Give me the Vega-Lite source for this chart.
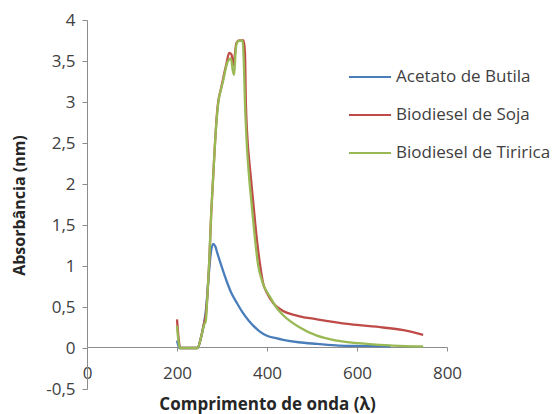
{
  "$schema": "https://vega.github.io/schema/vega-lite/v6.json",
  "width": 360,
  "height": 369,
  "autosize": {"type": "none"},
  "padding": {"left": 87, "top": 20, "right": 113, "bottom": 25},
  "background": "white",
  "config": {
    "view": {"stroke": null},
    "font": "Open Sans",
    "axis": {"labelFont": "Open Sans", "titleFont": "Open Sans", "grid": false}
  },
  "datasets": {
    "spectra": [
      {"s": "Acetato de Butila", "x": 200, "y": 0.09},
      {"s": "Acetato de Butila", "x": 205, "y": 0.0},
      {"s": "Acetato de Butila", "x": 246, "y": 0.0},
      {"s": "Acetato de Butila", "x": 253, "y": 0.12},
      {"s": "Acetato de Butila", "x": 260, "y": 0.3},
      {"s": "Acetato de Butila", "x": 265, "y": 0.5},
      {"s": "Acetato de Butila", "x": 270, "y": 0.85},
      {"s": "Acetato de Butila", "x": 275, "y": 1.15},
      {"s": "Acetato de Butila", "x": 280, "y": 1.27},
      {"s": "Acetato de Butila", "x": 285, "y": 1.24},
      {"s": "Acetato de Butila", "x": 290, "y": 1.15},
      {"s": "Acetato de Butila", "x": 300, "y": 0.98},
      {"s": "Acetato de Butila", "x": 310, "y": 0.82},
      {"s": "Acetato de Butila", "x": 320, "y": 0.68},
      {"s": "Acetato de Butila", "x": 333, "y": 0.55},
      {"s": "Acetato de Butila", "x": 345, "y": 0.44},
      {"s": "Acetato de Butila", "x": 360, "y": 0.33},
      {"s": "Acetato de Butila", "x": 370, "y": 0.27},
      {"s": "Acetato de Butila", "x": 382, "y": 0.21},
      {"s": "Acetato de Butila", "x": 400, "y": 0.15},
      {"s": "Acetato de Butila", "x": 420, "y": 0.12},
      {"s": "Acetato de Butila", "x": 436, "y": 0.1},
      {"s": "Acetato de Butila", "x": 470, "y": 0.07},
      {"s": "Acetato de Butila", "x": 511, "y": 0.05},
      {"s": "Acetato de Butila", "x": 560, "y": 0.03},
      {"s": "Acetato de Butila", "x": 620, "y": 0.025},
      {"s": "Acetato de Butila", "x": 675, "y": 0.02},

      {"s": "Biodiesel de Soja", "x": 200, "y": 0.35},
      {"s": "Biodiesel de Soja", "x": 203, "y": 0.15},
      {"s": "Biodiesel de Soja", "x": 207, "y": 0.0},
      {"s": "Biodiesel de Soja", "x": 245, "y": 0.0},
      {"s": "Biodiesel de Soja", "x": 253, "y": 0.12},
      {"s": "Biodiesel de Soja", "x": 260, "y": 0.3},
      {"s": "Biodiesel de Soja", "x": 264, "y": 0.4},
      {"s": "Biodiesel de Soja", "x": 267, "y": 0.6},
      {"s": "Biodiesel de Soja", "x": 272, "y": 1.1},
      {"s": "Biodiesel de Soja", "x": 276, "y": 1.64},
      {"s": "Biodiesel de Soja", "x": 280, "y": 2.05},
      {"s": "Biodiesel de Soja", "x": 284, "y": 2.45},
      {"s": "Biodiesel de Soja", "x": 288, "y": 2.8},
      {"s": "Biodiesel de Soja", "x": 292, "y": 3.02},
      {"s": "Biodiesel de Soja", "x": 296, "y": 3.12},
      {"s": "Biodiesel de Soja", "x": 300, "y": 3.22},
      {"s": "Biodiesel de Soja", "x": 305, "y": 3.35},
      {"s": "Biodiesel de Soja", "x": 310, "y": 3.47},
      {"s": "Biodiesel de Soja", "x": 316, "y": 3.6},
      {"s": "Biodiesel de Soja", "x": 321, "y": 3.58},
      {"s": "Biodiesel de Soja", "x": 325, "y": 3.45},
      {"s": "Biodiesel de Soja", "x": 328, "y": 3.55},
      {"s": "Biodiesel de Soja", "x": 332, "y": 3.72},
      {"s": "Biodiesel de Soja", "x": 338, "y": 3.75},
      {"s": "Biodiesel de Soja", "x": 348, "y": 3.75},
      {"s": "Biodiesel de Soja", "x": 351, "y": 3.6},
      {"s": "Biodiesel de Soja", "x": 353, "y": 3.0},
      {"s": "Biodiesel de Soja", "x": 356, "y": 2.6},
      {"s": "Biodiesel de Soja", "x": 362, "y": 2.2},
      {"s": "Biodiesel de Soja", "x": 369, "y": 1.8},
      {"s": "Biodiesel de Soja", "x": 378, "y": 1.3},
      {"s": "Biodiesel de Soja", "x": 385, "y": 1.0},
      {"s": "Biodiesel de Soja", "x": 391, "y": 0.8},
      {"s": "Biodiesel de Soja", "x": 400, "y": 0.67},
      {"s": "Biodiesel de Soja", "x": 415, "y": 0.54},
      {"s": "Biodiesel de Soja", "x": 436, "y": 0.45},
      {"s": "Biodiesel de Soja", "x": 470, "y": 0.39},
      {"s": "Biodiesel de Soja", "x": 511, "y": 0.35},
      {"s": "Biodiesel de Soja", "x": 584, "y": 0.29},
      {"s": "Biodiesel de Soja", "x": 658, "y": 0.25},
      {"s": "Biodiesel de Soja", "x": 700, "y": 0.22},
      {"s": "Biodiesel de Soja", "x": 747, "y": 0.16},

      {"s": "Biodiesel de Tiririca", "x": 200, "y": 0.27},
      {"s": "Biodiesel de Tiririca", "x": 203, "y": 0.1},
      {"s": "Biodiesel de Tiririca", "x": 206, "y": 0.0},
      {"s": "Biodiesel de Tiririca", "x": 246, "y": 0.0},
      {"s": "Biodiesel de Tiririca", "x": 253, "y": 0.12},
      {"s": "Biodiesel de Tiririca", "x": 260, "y": 0.28},
      {"s": "Biodiesel de Tiririca", "x": 264, "y": 0.33},
      {"s": "Biodiesel de Tiririca", "x": 267, "y": 0.57},
      {"s": "Biodiesel de Tiririca", "x": 272, "y": 1.1},
      {"s": "Biodiesel de Tiririca", "x": 276, "y": 1.64},
      {"s": "Biodiesel de Tiririca", "x": 280, "y": 2.05},
      {"s": "Biodiesel de Tiririca", "x": 284, "y": 2.45},
      {"s": "Biodiesel de Tiririca", "x": 288, "y": 2.78},
      {"s": "Biodiesel de Tiririca", "x": 292, "y": 3.0},
      {"s": "Biodiesel de Tiririca", "x": 300, "y": 3.2},
      {"s": "Biodiesel de Tiririca", "x": 305, "y": 3.32},
      {"s": "Biodiesel de Tiririca", "x": 310, "y": 3.45},
      {"s": "Biodiesel de Tiririca", "x": 316, "y": 3.52},
      {"s": "Biodiesel de Tiririca", "x": 320, "y": 3.53},
      {"s": "Biodiesel de Tiririca", "x": 324, "y": 3.38},
      {"s": "Biodiesel de Tiririca", "x": 327, "y": 3.33},
      {"s": "Biodiesel de Tiririca", "x": 330, "y": 3.6},
      {"s": "Biodiesel de Tiririca", "x": 334, "y": 3.73},
      {"s": "Biodiesel de Tiririca", "x": 340, "y": 3.75},
      {"s": "Biodiesel de Tiririca", "x": 346, "y": 3.74},
      {"s": "Biodiesel de Tiririca", "x": 349, "y": 3.4},
      {"s": "Biodiesel de Tiririca", "x": 351, "y": 3.0},
      {"s": "Biodiesel de Tiririca", "x": 355, "y": 2.5},
      {"s": "Biodiesel de Tiririca", "x": 360, "y": 2.1},
      {"s": "Biodiesel de Tiririca", "x": 365, "y": 1.8},
      {"s": "Biodiesel de Tiririca", "x": 372, "y": 1.4},
      {"s": "Biodiesel de Tiririca", "x": 380, "y": 1.02},
      {"s": "Biodiesel de Tiririca", "x": 390, "y": 0.8},
      {"s": "Biodiesel de Tiririca", "x": 407, "y": 0.62},
      {"s": "Biodiesel de Tiririca", "x": 420, "y": 0.5},
      {"s": "Biodiesel de Tiririca", "x": 436, "y": 0.4},
      {"s": "Biodiesel de Tiririca", "x": 473, "y": 0.25},
      {"s": "Biodiesel de Tiririca", "x": 511, "y": 0.15},
      {"s": "Biodiesel de Tiririca", "x": 556, "y": 0.09},
      {"s": "Biodiesel de Tiririca", "x": 622, "y": 0.05},
      {"s": "Biodiesel de Tiririca", "x": 680, "y": 0.03},
      {"s": "Biodiesel de Tiririca", "x": 747, "y": 0.02}
    ]
  },
  "data": {"name": "spectra"},
  "mark": {"type": "line", "strokeWidth": 2.3, "interpolate": "monotone"},
  "encoding": {
    "x": {
      "field": "x",
      "type": "quantitative",
      "scale": {"domain": [0, 800], "nice": false},
      "axis": {
        "values": [0, 200, 400, 600, 800],
        "offset": -42,
        "labelFlush": false,
        "domainColor": "#8c8c8c",
        "tickColor": "#8c8c8c",
        "tickSize": 4,
        "labelPadding": 14,
        "labelFontSize": 17,
        "labelColor": "#404040",
        "title": "Comprimento de onda (λ)",
        "titleFontSize": 17,
        "titleFontWeight": "bold",
        "titleColor": "#262626",
        "titleY": 62,
        "titleBaseline": "alphabetic"
      }
    },
    "y": {
      "field": "y",
      "type": "quantitative",
      "scale": {"domain": [-0.5, 4], "nice": false, "zero": false},
      "axis": {
        "values": [-0.5, 0, 0.5, 1, 1.5, 2, 2.5, 3, 3.5, 4],
        "labelExpr": "replace(replace(format(datum.value, '~g'), '.', ','), '−', '-')",
        "labelFlush": false,
        "domainColor": "#8c8c8c",
        "tickColor": "#8c8c8c",
        "tickSize": 5,
        "labelPadding": 7,
        "labelFontSize": 17,
        "labelColor": "#404040",
        "title": "Absorbância (nm)",
        "titleFontSize": 16,
        "titleFontWeight": "bold",
        "titleColor": "#262626",
        "titleX": -68,
        "titleY": 185,
        "titleAngle": -90,
        "titleAlign": "center",
        "titleBaseline": "middle"
      }
    },
    "color": {
      "field": "s",
      "type": "nominal",
      "scale": {
        "domain": ["Acetato de Butila", "Biodiesel de Soja", "Biodiesel de Tiririca"],
        "range": ["#4a7ebb", "#be4b48", "#98b954"]
      },
      "legend": {
        "title": null,
        "orient": "none",
        "legendX": 261,
        "legendY": 35,
        "symbolType": "stroke",
        "symbolSize": 1764,
        "symbolStrokeWidth": 2,
        "labelFontSize": 17,
        "labelColor": "#404040",
        "labelFont": "Open Sans",
        "labelOffset": 4,
        "rowPadding": 8
      }
    }
  }
}
